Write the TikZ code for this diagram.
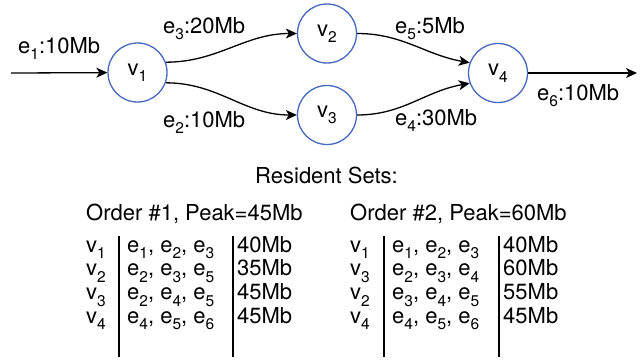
\documentclass[tikz,border=0pt]{standalone}
\usepackage{fontspec}
\setmainfont{TeX Gyre Heros}
\usetikzlibrary{arrows.meta}
\definecolor{nodeblue}{RGB}{68,104,189}
\newcommand{\lsub}[1]{\raisebox{-6.5pt}{\fontsize{15.5}{15.5}\selectfont #1}}
\begin{document}
\begin{tikzpicture}[x=1pt,y=-1pt,
  vert/.style={circle,draw=nodeblue,line width=1.3pt,minimum size=59pt,inner sep=0pt,font=\fontsize{22}{24}\selectfont},
  lbl/.style={anchor=base west,inner sep=0pt,font=\fontsize{22}{24}\selectfont},
  edge/.style={line width=1.3pt,-{Stealth[length=11pt,width=10pt,inset=3pt]}},
  bar/.style={line width=1.5pt}]
\useasboundingbox (0,0) rectangle (644,360);
% graph
\node[vert] (v1) at (137.5,72.5) {v\lsub{1}};
\node[vert] (v2) at (327,33.5) {v\lsub{2}};
\node[vert] (v3) at (327,115) {v\lsub{3}};
\node[vert] (v4) at (498,73) {v\lsub{4}};
\coordinate (inL) at (11,73);
\coordinate (outR) at (637,73);
\draw[edge] (inL) -- (v1);
\draw[edge] (v1.20) to[out=0,in=180] (v2.west);
\draw[edge] (v1.-20) to[out=0,in=180] (v3.west);
\draw[edge] (v2.east) to[out=0,in=170] (v4.160);
\draw[edge] (v3.east) to[out=0,in=190] (v4.200);
\draw[edge] (v4.east) -- (outR);
\node[lbl] (l1) at (18,53) {e\lsub{1}:10Mb};
\node[lbl] (l3) at (163,33) {e\lsub{3}:20Mb};
\node[lbl] (l2) at (163,127) {e\lsub{2}:10Mb};
\node[lbl] (l5) at (395,33) {e\lsub{5}:5Mb};
\node[lbl] (l4) at (395,125) {e\lsub{4}:30Mb};
\node[lbl] (l6) at (537,100) {e\lsub{6}:10Mb};
% resident sets
\node[lbl] (rs) at (255,183) {Resident Sets:};
\node[lbl] (o1) at (86,220) {Order \#1, Peak=45Mb};
\node[lbl] (o2) at (350,220) {Order \#2, Peak=60Mb};
% table 1
\foreach \v/\e/\m [count=\i] in {1/{e\lsub{1}, e\lsub{2}, e\lsub{3}}/40Mb, 2/{e\lsub{2}, e\lsub{3}, e\lsub{5}}/35Mb, 3/{e\lsub{2}, e\lsub{4}, e\lsub{5}}/45Mb, 4/{e\lsub{4}, e\lsub{5}, e\lsub{6}}/45Mb}{
  \node[lbl] (ta\i) at (86,{252+23.8*(\i-1)}) {v\lsub{\v}};
  \node[lbl] (tb\i) at (127,{252+23.8*(\i-1)}) {\e};
  \node[lbl] (tc\i) at (237,{252+23.8*(\i-1)}) {\m};
}
\foreach \v/\e/\m [count=\i] in {1/{e\lsub{1}, e\lsub{2}, e\lsub{3}}/40Mb, 3/{e\lsub{2}, e\lsub{3}, e\lsub{4}}/60Mb, 2/{e\lsub{3}, e\lsub{4}, e\lsub{5}}/55Mb, 4/{e\lsub{4}, e\lsub{5}, e\lsub{6}}/45Mb}{
  \node[lbl] (ua\i) at (350,{252+23.8*(\i-1)}) {v\lsub{\v}};
  \node[lbl] (ub\i) at (392,{252+23.8*(\i-1)}) {\e};
  \node[lbl] (uc\i) at (503,{252+23.8*(\i-1)}) {\m};
}
\coordinate (b1t) at (119,236); \coordinate (b1b) at (119,357);
\coordinate (b2t) at (233,236); \coordinate (b2b) at (233,357);
\coordinate (b3t) at (384,236); \coordinate (b3b) at (384,357);
\coordinate (b4t) at (499,236); \coordinate (b4b) at (499,357);
\draw[bar] (b1t) -- (b1b);
\draw[bar] (b2t) -- (b2b);
\draw[bar] (b3t) -- (b3b);
\draw[bar] (b4t) -- (b4b);
\end{tikzpicture}
\end{document}
